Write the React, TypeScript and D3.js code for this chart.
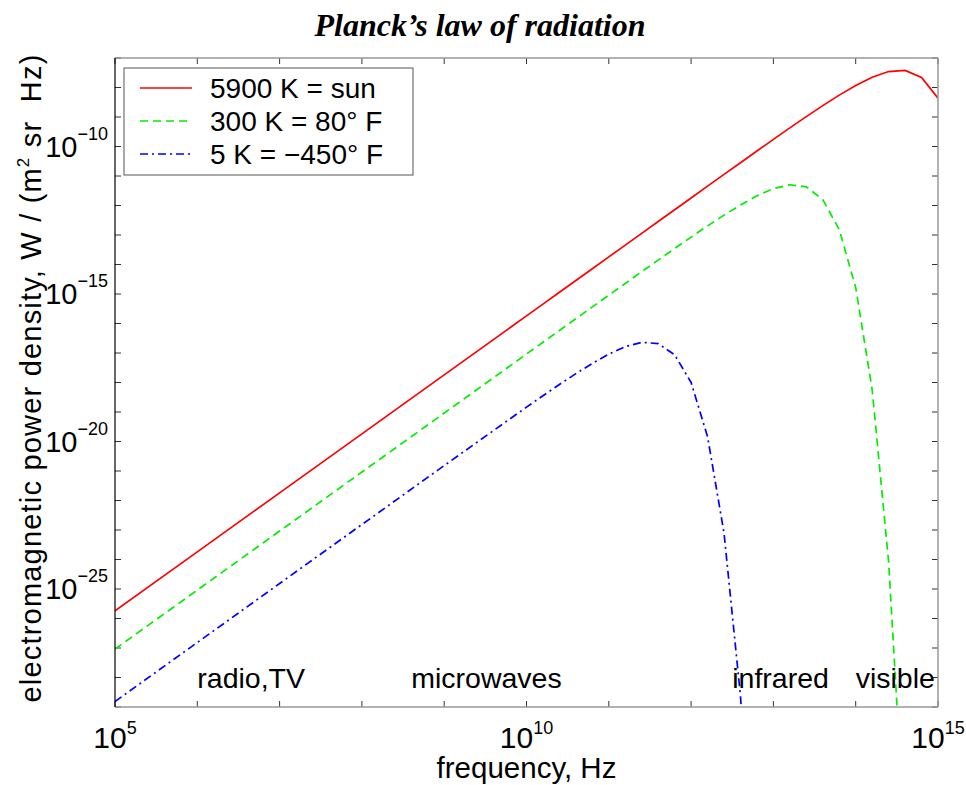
import React, { useEffect, useRef } from 'react';
import * as d3 from 'd3';

// log10 of frequency (Hz) at each sample
const freqExp = [
  5, 6, 7, 8, 9,
  10, 10.2, 10.4, 10.6, 10.8, 11, 11.2, 11.4, 11.6, 11.8,
  12, 12.2, 12.4, 12.6, 12.8, 13, 13.2, 13.4, 13.6, 13.8,
  14, 14.2, 14.4, 14.6, 14.8, 15,
];

// log10 of power density
const sunLog = [
  -25.742, -23.742, -21.742, -19.742, -17.742,
  -15.742, -15.342, -14.942, -14.542, -14.142, -13.742, -13.343, -12.943, -12.543, -12.144,
  -11.744, -11.345, -10.946, -10.549, -10.153, -9.76, -9.37, -8.987, -8.614, -8.258,
  -7.931, -7.652, -7.459, -7.421, -7.658, -8.363,
];
const roomLog = [
  -27.036, -25.036, -23.036, -21.036, -19.036,
  -17.036, -16.637, -16.237, -15.837, -15.438, -15.039, -14.642, -14.245, -13.85, -13.458,
  -13.071, -12.692, -12.326, -11.982, -11.673, -11.429, -11.297, -11.369, -11.796, -12.815,
  -14.778, -18.24, -24.079, -33.683,
];
const coldLog = [
  -28.814, -26.814, -24.814, -22.814, -20.816,
  -18.835, -18.448, -18.067, -17.7, -17.352, -17.039, -16.785, -16.638, -16.681, -17.061,
  -17.999, -19.837, -23.101, -28.623, -37.73,
];

const seriesNames = ['5900 K = sun', '300 K = 80\u00b0 F', '5 K = \u2212450\u00b0 F'];
const seriesColors = ['#ff0000', '#00ee00', '#0000ff'];
const seriesDash = [null, '8,5', '8,4,2,4'];

const bands = ['radio,TV', 'microwaves', 'infrared', 'visible'];
const bandStartExp = [6.0, 8.6, 12.5, 14.0];

const xTickExp = [5, 10, 15];
const yTickExp = [-10, -15, -20, -25];

const FONT = '"Liberation Sans", Arial, Helvetica, sans-serif';

const App = () => {
  const ref = useRef(null);

  useEffect(() => {
    const svg = d3.select(ref.current);
    svg.selectAll('*').remove();

    const left = 115, right = 938, top = 58, bottom = 707;

    const x = d3.scaleLog().domain([1e5, 1e15]).range([left, right]);
    const y = d3.scaleLog().domain([1e-29, 1e-7]).range([bottom, top]);

    const freqs = freqExp.map(e => 10 ** e);
    const xDecades = d3.range(5, 16).map(e => 10 ** e);
    const yDecades = d3.range(-29, -6).map(e => 10 ** e);

    // title
    svg.append('text')
      .attr('x', 480).attr('y', 36)
      .attr('text-anchor', 'middle')
      .attr('font-family', '"Liberation Serif", "Times New Roman", serif')
      .attr('font-weight', 'bold').attr('font-style', 'italic')
      .attr('font-size', 32)
      .text('Planck\u2019s law of radiation');

    // clip for curves
    svg.append('defs').append('clipPath').attr('id', 'plotclip')
      .append('rect').attr('x', left).attr('y', top)
      .attr('width', right - left).attr('height', bottom - top);

    // ticks (inward) on all four sides
    const tickLen = 6;
    const tg = svg.append('g').attr('stroke', '#333').attr('stroke-width', 1);
    xDecades.forEach(v => {
      tg.append('line').attr('x1', x(v)).attr('x2', x(v)).attr('y1', bottom).attr('y2', bottom - tickLen);
      tg.append('line').attr('x1', x(v)).attr('x2', x(v)).attr('y1', top).attr('y2', top + tickLen);
    });
    yDecades.forEach(v => {
      tg.append('line').attr('x1', left).attr('x2', left + tickLen).attr('y1', y(v)).attr('y2', y(v));
      tg.append('line').attr('x1', right).attr('x2', right - tickLen).attr('y1', y(v)).attr('y2', y(v));
    });

    // curves
    const allSeries = [sunLog, roomLog, coldLog];
    const curves = svg.append('g').attr('clip-path', 'url(#plotclip)');
    allSeries.forEach((vals, k) => {
      const line = d3.line()
        .x((d, i) => x(freqs[i]))
        .y(d => y(10 ** d));
      const p = curves.append('path')
        .attr('d', line(vals))
        .attr('fill', 'none')
        .attr('stroke', seriesColors[k])
        .attr('stroke-width', 1.7);
      if (seriesDash[k]) p.attr('stroke-dasharray', seriesDash[k]);
    });

    // frame
    svg.append('line').attr('x1', left).attr('x2', right).attr('y1', top).attr('y2', top)
      .attr('stroke', '#999').attr('stroke-width', 1.5);
    svg.append('line').attr('x1', right).attr('x2', right).attr('y1', top).attr('y2', bottom)
      .attr('stroke', '#999').attr('stroke-width', 1.5);
    svg.append('line').attr('x1', left).attr('x2', right).attr('y1', bottom).attr('y2', bottom)
      .attr('stroke', '#999').attr('stroke-width', 1.5);
    svg.append('line').attr('x1', left).attr('x2', left).attr('y1', top).attr('y2', bottom)
      .attr('stroke', '#000').attr('stroke-width', 1.2);

    // x tick labels
    xTickExp.forEach(e => {
      const t = svg.append('text')
        .attr('x', x(10 ** e)).attr('y', 748)
        .attr('text-anchor', 'middle')
        .attr('font-family', FONT).attr('font-size', 30);
      t.append('tspan').text('10');
      t.append('tspan').attr('dy', -14).attr('font-size', 18).text(String(e));
    });

    // y tick labels
    yTickExp.forEach(e => {
      const t = svg.append('text')
        .attr('x', 108).attr('y', y(10 ** e) + 10)
        .attr('text-anchor', 'end')
        .attr('font-family', FONT).attr('font-size', 29);
      t.append('tspan').text('10');
      t.append('tspan').attr('dy', -17).attr('font-size', 18).text('\u2212' + Math.abs(e));
    });

    // band labels
    bands.forEach((b, i) => {
      svg.append('text')
        .attr('x', x(10 ** bandStartExp[i])).attr('y', 688)
        .attr('font-family', FONT).attr('font-size', 28.5)
        .text(b);
    });

    // axis titles
    svg.append('text')
      .attr('x', (left + right) / 2).attr('y', 778)
      .attr('text-anchor', 'middle')
      .attr('font-family', FONT).attr('font-size', 29.5)
      .text('frequency, Hz');

    const yl = svg.append('text')
      .attr('transform', `translate(41,378) rotate(-90)`)
      .attr('text-anchor', 'middle')
      .attr('font-family', FONT).attr('font-size', 29)
      .attr('letter-spacing', 1.2)
      .style('white-space', 'pre');
    yl.append('tspan').text('electromagnetic power density, W / (m');
    yl.append('tspan').attr('dy', -12).attr('font-size', 17).text('2');
    yl.append('tspan').attr('dy', 12).text(' sr  Hz)');

    // legend
    const lg = svg.append('g');
    lg.append('rect')
      .attr('x', 124).attr('y', 68).attr('width', 289).attr('height', 107)
      .attr('fill', '#fff').attr('stroke', '#555').attr('stroke-width', 1);
    seriesNames.forEach((name, k) => {
      const ly = 88 + k * 33;
      const l = lg.append('line')
        .attr('x1', 140).attr('x2', 192).attr('y1', ly).attr('y2', ly)
        .attr('stroke', seriesColors[k]).attr('stroke-width', 1.7);
      if (seriesDash[k]) l.attr('stroke-dasharray', seriesDash[k]);
      lg.append('text')
        .attr('x', 210).attr('y', ly + 10)
        .attr('font-family', FONT).attr('font-size', 28)
        .text(name);
    });
  }, []);

  return (
    <svg
      ref={ref}
      width={966}
      height={785}
      style={{ position: 'absolute', left: 0, top: 0, background: '#fff' }}
    ></svg>
  );
};

export default App;
